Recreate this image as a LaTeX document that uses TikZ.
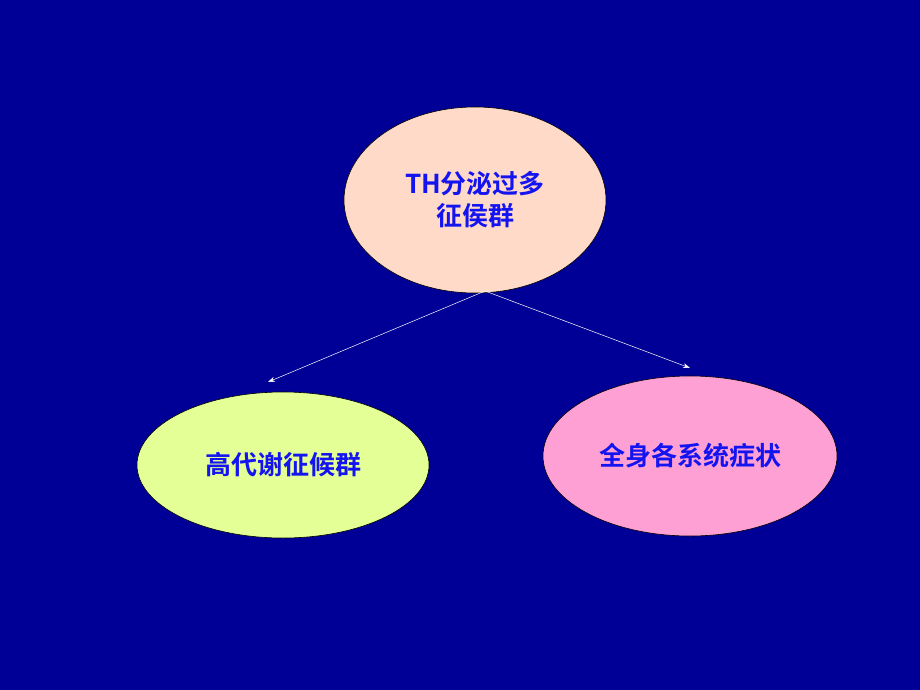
\documentclass[tikz,border=0pt]{standalone}
\usepackage{fontspec}
\newfontfamily\cjk{Noto Sans CJK SC Bold}
\usetikzlibrary{shapes.geometric,arrows.meta}
\definecolor{bg}{RGB}{0,0,150}
\definecolor{txt}{RGB}{20,20,240}
\definecolor{peach}{RGB}{255,218,200}
\definecolor{lime}{RGB}{228,255,150}
\definecolor{pinkc}{RGB}{255,160,212}
\tikzset{
 blob/.style={ellipse,draw=black,line width=0.6pt,inner sep=0pt,font=\cjk\fontsize{26}{32}\selectfont,text=txt,align=center},
 link/.style={draw=white,line width=0.5pt,-{Stealth[length=7pt,width=5pt]}}
}
\begin{document}
\begin{tikzpicture}[x=1pt,y=-1pt]
\fill[bg] (0,0) rectangle (920,690);
\useasboundingbox (0,0) rectangle (920,690);
\node[blob,fill=peach,minimum width=262,minimum height=186] (top) at (475,200) {TH分泌过多\\征侯群};
\node[blob,fill=lime,minimum width=292,minimum height=146] (left) at (283,465) {高代谢征候群};
\node[blob,fill=pinkc,minimum width=294,minimum height=160] (right) at (690,456) {全身各系统症状};
\coordinate (src) at (485,291);
\draw[link] (src) -- (268,382);
\draw[link] (src) -- (690,368);
\end{tikzpicture}
\end{document}
